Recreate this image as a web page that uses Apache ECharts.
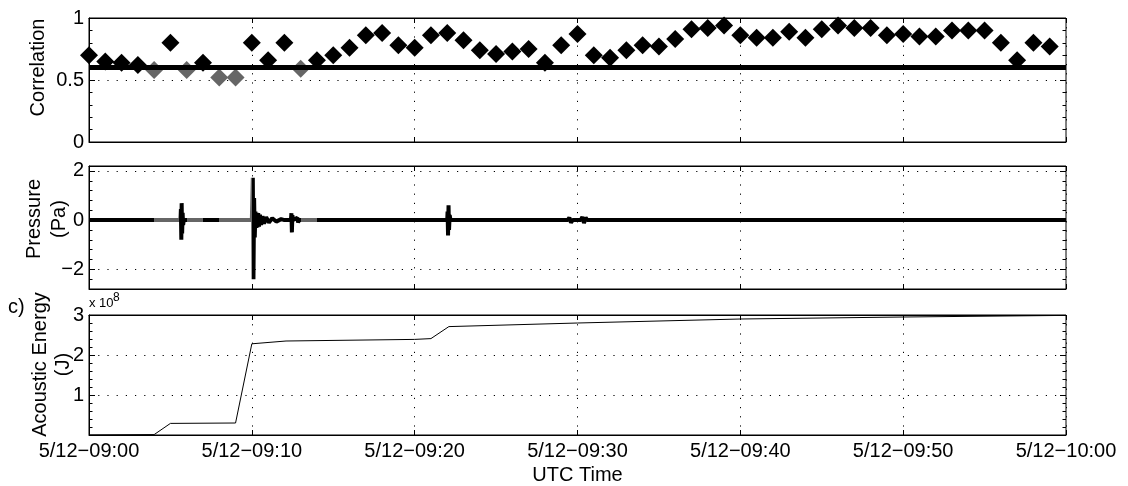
<!DOCTYPE html>
<html>
<head>
<meta charset="utf-8">
<script src="https://cdn.jsdelivr.net/npm/echarts@6/dist/echarts.min.js"></script>
<style>
html,body{margin:0;padding:0;background:#fff}
#chart{width:1128px;height:486px}
</style>
</head>
<body>
<div id="chart"></div>
<script>
// time in minutes after 5/12-09:00 UTC
var corrTime = [0,1,2,3,4,5,6,7,8,9,10,11,12,13,14,15,16,17,18,19,20,21,22,23,24,25,26,27,28,29,
                30,31,32,33,34,35,36,37,38,39,40,41,42,43,44,45,46,47,48,49,50,51,52,53,54,55,56,57,58,59];
var corrValue = [0.70,0.65,0.64,0.62,0.58,0.80,0.58,0.64,0.52,0.52,0.80,0.66,0.80,0.59,0.66,0.70,0.76,0.86,0.88,0.78,
                 0.76,0.86,0.88,0.82,0.74,0.71,0.73,0.75,0.64,0.78,0.87,0.70,0.68,0.74,0.78,0.77,0.83,0.91,0.92,0.94,
                 0.86,0.84,0.84,0.89,0.84,0.91,0.94,0.92,0.92,0.86,0.87,0.85,0.85,0.90,0.90,0.90,0.80,0.66,0.80,0.77];
var corrThreshold = 0.6;

var pressureTime  = [0,5.60,5.64,5.67,5.69,5.72,5.75,5.78,5.82,
                     10.0,10.06,10.10,10.14,10.18,10.22,10.26,10.30,10.34,10.39,10.44,10.50,10.57,10.65,10.75,10.88,11.05,11.25,11.5,11.8,12.0,
                     12.40,12.43,12.46,12.49,12.53,12.80,12.84,12.90,
                     22.0,22.02,22.05,22.08,22.11,22.15,22.2,
                     29.4,29.5,29.6,29.7,30.2,30.3,30.4,30.5,30.6,60];
var pressureValue = [0,0,0.45,-0.80,0.69,-0.55,0.30,-0.20,0,
                     0,1.72,-2.40,0.90,-0.70,0.35,-0.32,0.30,-0.30,0.28,-0.26,0.22,-0.20,0.16,-0.14,0.12,-0.10,0.08,-0.06,0.04,0,
                     0,0.28,-0.50,0.20,0,0.10,-0.10,0,
                     0,0.35,-0.62,0.60,-0.40,0.20,0,
                     0,0.10,-0.10,0,0,0.13,-0.12,0.10,0,0];
var grayWindows = [[4,5.55],[6,7],[8,10],[13,14]];

var energyTime  = [0,4.0,5.0,9.0,10.0,12.1,20.0,21.0,22.1,30,40,50,60];
var energyValue = [0,0.01e8,0.29e8,0.30e8,2.28e8,2.35e8,2.39e8,2.41e8,2.71e8,2.80e8,2.90e8,2.95e8,2.99e8];

var xTicks = [0,10,20,30,40,50,60];
var xTickLabels = ['5/12\u221209:00','5/12\u221209:10','5/12\u221209:20','5/12\u221209:30','5/12\u221209:40','5/12\u221209:50','5/12\u221210:00'];
var pressureTicks = [-2,0,2];

var FONT = '"Liberation Sans", Arial, sans-serif';
var GRAY = '#666';
var DOT = {color:'#000', width:1, type:[1.2,8]};

function zip(a,b){
    var out=[];
    for(var i=0;i<a.length;i++){ out.push([a[i],b[i]]); }
    return out;
}
function minus(v){ return String(v).replace('-','\u2212'); }

function xAx(g,pos,last){
    return {
        type:'value', gridIndex:g, position:pos, min:0, max:60, interval:10,
        axisLine:{show:true, onZero:false, lineStyle:{color:'#000', width:1}},
        axisTick:{show:true, inside:true, length:5, lineStyle:{color:'#000'}},
        axisLabel:{show:last && pos==='bottom', margin:6, color:'#000', fontSize:20, fontFamily:FONT,
            formatter:function(v){ return xTickLabels[xTicks.indexOf(v)] || ''; }},
        splitLine:{show:pos==='bottom', lineStyle:DOT}
    };
}

function yAx(g,pos,o){
    var left = pos==='left';
    var a = {
        type:'value', gridIndex:g, position:pos, min:o.min, max:o.max,
        axisLine:{show:left && !o.minorOnly, onZero:false, lineStyle:{color:'#000', width:1}},
        axisTick:{show:true, inside:true, length:o.minorOnly ? 3.5 : 6, lineStyle:{color:'#000'}},
        axisLabel:{show:left && !o.minorOnly, margin:5, color:'#000', fontSize:20, fontFamily:FONT,
            formatter:o.formatter || minus},
        splitLine:{show:left && !o.minorOnly, lineStyle:DOT}
    };
    if(o.interval){ a.interval = o.interval; }
    if(o.custom){ a.axisTick.customValues = o.custom; a.axisLabel.customValues = o.custom; }
    if(o.minor){ a.minorTick = {show:true, splitNumber:5, length:3.5, lineStyle:{color:'#000'}}; }
    if(left && o.name){
        var lines = o.name.split('\n').map(function(s){ return '{n|' + s + '}'; });
        a.name = lines.join('\n'); a.nameLocation = 'middle'; a.nameRotate = 90; a.nameGap = o.gap;
        a.nameMoveOverlap = false;
        a.nameTextStyle = {color:'#000', fontSize:20, fontFamily:FONT, padding:[0,0,0,o.up],
            rich:{n:{color:'#000', fontSize:20, fontFamily:FONT, lineHeight:o.lh || 24}}};
    }
    return a;
}

var pieces = grayWindows.map(function(w){ return {gte:w[0], lt:w[1], color:GRAY}; });

var xAxes = [xAx(0,'bottom',false), xAx(0,'top',false),
             xAx(1,'bottom',false), xAx(1,'top',false),
             xAx(2,'bottom',true),  xAx(2,'top',true)];
xAxes[4].name = 'UTC Time';
xAxes[4].nameLocation = 'middle';
xAxes[4].nameGap = 30;
xAxes[4].nameMoveOverlap = false;
xAxes[4].nameTextStyle = {color:'#000', fontSize:20, fontFamily:FONT};

var yAxes = [
    yAx(0,'left',{min:0,max:1,interval:0.5,minor:true,name:'Correlation',gap:39,up:25}),
    yAx(0,'right',{min:0,max:1,interval:0.5,minor:true}),
    yAx(1,'left',{min:-2.8,max:2.2,custom:pressureTicks,name:'Pressure\n(Pa)',gap:17,lh:25,up:17}),
    yAx(1,'right',{min:-2.8,max:2.2,custom:pressureTicks}),
    yAx(1,'left',{min:-2.8,max:2.2,interval:0.4,minorOnly:true}),
    yAx(1,'right',{min:-2.8,max:2.2,interval:0.4,minorOnly:true}),
    yAx(2,'left',{min:0,max:3e8,interval:1e8,minor:true,name:'Acoustic Energy\n(J)',gap:14,lh:23,up:21,
        formatter:function(v){ return v===0 ? '' : String(v/1e8); }}),
    yAx(2,'right',{min:0,max:3e8,interval:1e8,minor:true})
];

var chart = echarts.init(document.getElementById('chart'), null, {renderer:'canvas'});
chart.setOption({
    animation:false,
    backgroundColor:'#fff',
    textStyle:{fontFamily:FONT},
    grid:[
        {left:89, right:62, top:18,  height:124, show:true, borderColor:'#000', borderWidth:1, backgroundColor:'#fff'},
        {left:89, right:62, top:166, height:123, show:true, borderColor:'#000', borderWidth:1, backgroundColor:'#fff'},
        {left:89, right:62, top:315, height:123, show:true, borderColor:'#000', borderWidth:1, backgroundColor:'#fff'}
    ],
    xAxis:xAxes,
    yAxis:yAxes,
    visualMap:[{
        type:'piecewise', show:false, seriesIndex:2, dimension:0,
        pieces:pieces, outOfRange:{color:'#000'}
    }],
    graphic:[
        {type:'text', left:8, top:297, z:100, style:{text:'c)', fill:'#000', font:'20px "Liberation Sans", Arial, sans-serif'}},
        {type:'text', left:89, top:297, z:100, style:{text:'x 10', fill:'#000', font:'13px "Liberation Sans", Arial, sans-serif'}},
        {type:'text', left:113, top:292, z:100, style:{text:'8', fill:'#000', font:'12px "Liberation Sans", Arial, sans-serif'}}
    ],
    series:[
        {
            type:'scatter', xAxisIndex:0, yAxisIndex:0, symbol:'diamond', symbolSize:18, z:2,
            data:zip(corrTime,corrValue),
            itemStyle:{opacity:1, color:function(p){ return p.value[1] < corrThreshold ? GRAY : '#000'; }}
        },
        {
            type:'line', xAxisIndex:0, yAxisIndex:0, showSymbol:false, z:3,
            data:[[0,corrThreshold],[60,corrThreshold]],
            lineStyle:{color:'#000', width:5}
        },
        {
            type:'line', xAxisIndex:2, yAxisIndex:2, showSymbol:false, z:2,
            data:zip(pressureTime,pressureValue),
            lineStyle:{width:4}
        },
        {
            type:'line', xAxisIndex:4, yAxisIndex:6, showSymbol:false, z:2,
            data:zip(energyTime,energyValue),
            lineStyle:{color:'#000', width:1}
        }
    ]
});
</script>
</body>
</html>
